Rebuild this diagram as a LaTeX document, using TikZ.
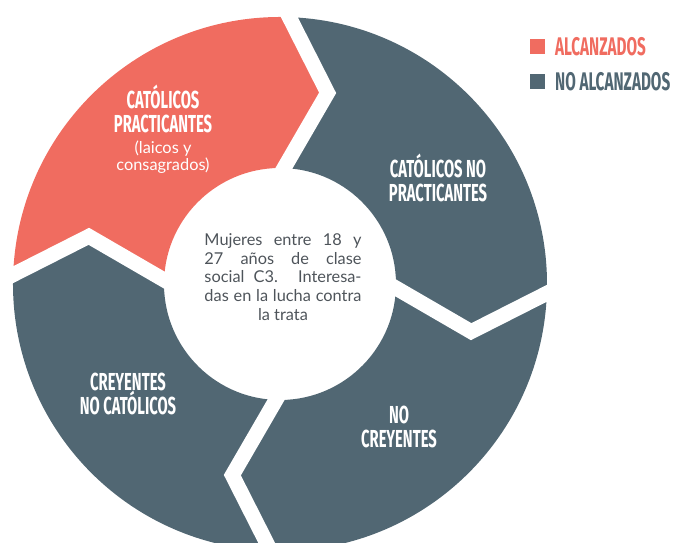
\documentclass[tikz,border=0pt]{standalone}
\usepackage{fontspec}
\setmainfont{Lato}
\newfontfamily\capsfont[FakeStretch=0.6]{Fira Sans}
\usetikzlibrary{calc,positioning}

\definecolor{alcanzado}{RGB}{240,108,96}
\definecolor{pizarra}{RGB}{81,103,115}
\definecolor{texto}{RGB}{78,84,90}

% ring radii: outside, inside, tip of the chevrons
\newcommand{\Rext}{5.34}
\newcommand{\Rint}{2.32}
\newcommand{\Rtip}{3.94}

\tikzset{
  grupo/.style={text=white, align=center, inner sep=0pt,
    font=\capsfont\bfseries\fontsize{14}{13.8}\selectfont},
  nota/.style={text=white, align=center, inner sep=0pt,
    font=\fontsize{9.3}{8.6}\selectfont},
  hueco/.style={white, line width=0.3cm, line join=miter},
  cuadro/.style={minimum size=0.3cm, inner sep=0pt},
  leyenda/.style={anchor=west, inner sep=0pt,
    font=\capsfont\bfseries\fontsize{14.5}{13}\selectfont}
}

\begin{document}
\begin{tikzpicture}
  \clip (-5.6,-5.18) rectangle (7.9,5.68);

  % the four segments, going clockwise
  \foreach \a/\b/\c in {178/88/alcanzado, 88/-2/pizarra,
                        -2/-92/pizarra, -92/-182/pizarra}
    \fill[\c] (\a:\Rext) arc[start angle=\a, end angle=\b, radius=\Rext]
      -- (\b-12:\Rtip) -- (\b:\Rint)
      arc[start angle=\b, end angle=\a, radius=\Rint]
      -- (\a-12:\Rtip) -- cycle;

  % white chevrons between them
  \foreach \a in {178,88,-2,-92}
    \draw[hueco] ($(\a-12:\Rtip)!1.15!(\a:\Rext)$)
      -- (\a-12:\Rtip) -- ($(\a-12:\Rtip)!1.3!(\a:\Rint)$);

  \node[text=texto, align=center, font=\fontsize{9.3}{10.7}\selectfont]
    (meta) at (0.06,0.14) {%
    \makebox[3.14cm][s]{Mujeres entre 18 y}\\
    \makebox[3.14cm][s]{27 años de clase}\\
    \makebox[3.14cm][s]{social C3. Interesa-}\\
    \makebox[3.14cm][s]{das en la lucha contra}\\
    la trata};

  \node[grupo] (cp) at (-2.34,3.5) {CATÓLICOS\\PRACTICANTES};
  \node[nota] (cpnota) at (-2.34,2.54) {(laicos y\\consagrados)};

  \node[grupo] (cnp) at (3.16,2.12) {CATÓLICOS NO\\PRACTICANTES};
  \node[grupo] (cnc) at (-3.04,-2.2) {CREYENTES\\NO CATÓLICOS};
  \node[grupo] (nc) at (2.38,-2.86) {NO\\CREYENTES};

  % legend
  \node[cuadro, fill=alcanzado] (c1) at (5.16,4.74) {};
  \node[leyenda, text=alcanzado, right=0.18cm of c1] (l1) {ALCANZADOS};
  \node[cuadro, fill=pizarra] (c2) at (5.16,4.04) {};
  \node[leyenda, text=pizarra, right=0.18cm of c2] (l2) {NO ALCANZADOS};
\end{tikzpicture}
\end{document}
